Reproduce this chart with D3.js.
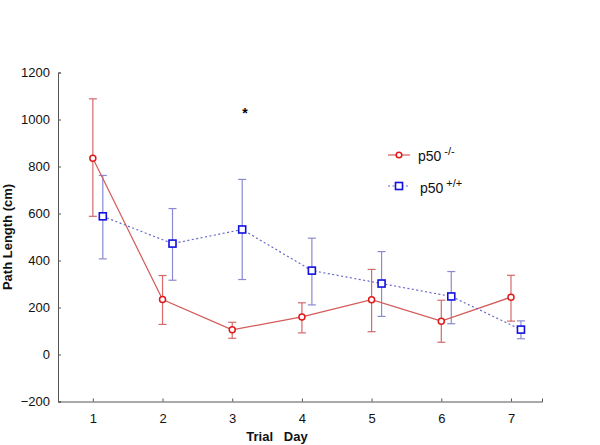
<!DOCTYPE html>
<html><head><meta charset="utf-8">
<script src="https://cdn.jsdelivr.net/npm/d3@7"></script>
<style>body{margin:0;background:#fff}svg{display:block}</style>
</head><body>
<script>
const days = [1,2,3,4,5,6,7];
const koMean = [835, 234, 105, 160, 233, 142, 244];
const koUpper = [1088, 336, 137, 220, 362, 231, 337];
const koLower = [588, 128, 69, 92, 97, 52, 142];
const wtMean = [588, 472, 532, 357, 302, 247, 106];
const wtUpper = [762, 621, 745, 495, 438, 353, 143];
const wtLower = [407, 316, 319, 211, 162, 131, 67];
const yTicks = [-200, 0, 200, 400, 600, 800, 1000, 1200];
const xTicks = [1,2,3,4,5,6,7];

const W = 600, H = 445;
const svg = d3.select("body").append("svg").attr("width", W).attr("height", H);
const font = "Liberation Sans, Arial, sans-serif";

const x = d3.scaleLinear().domain([0.5, 7.445]).range([58, 542]);
const y = d3.scaleLinear().domain([-200, 1200]).range([401.5, 72.5]);
const wOff = 0.143;

// axes
const yAxis = svg.append("g").attr("transform", "translate(58,0)")
  .call(d3.axisLeft(y).tickValues(yTicks).tickFormat(d3.format("d")).tickSize(-3).tickPadding(8));
const xAxis = svg.append("g").attr("transform", "translate(0,401.5)")
  .call(d3.axisBottom(x).tickValues(xTicks).tickFormat(d3.format("d")).tickSize(-3).tickPadding(12));
[yAxis, xAxis].forEach(g => {
  g.select(".domain").attr("stroke", "#555");
  g.selectAll(".tick line").attr("stroke", "#555");
  g.selectAll("text").attr("font-family", font).attr("font-size", 13).attr("fill", "#111");
});

// labels
svg.append("text").attr("transform", "translate(12,237) rotate(-90)")
  .attr("text-anchor", "middle").attr("font-family", font).attr("font-size", 13)
  .attr("font-weight", "bold").attr("fill", "#111").text("Path Length (cm)");
svg.append("text").attr("x", 277).attr("y", 441).attr("text-anchor", "middle")
  .attr("font-family", font).attr("font-size", 13).attr("font-weight", "bold")
  .attr("fill", "#111").attr("xml:space", "preserve").style("white-space", "pre").text("Trial   Day");

// asterisk
svg.append("text").attr("x", 245).attr("y", 118).attr("text-anchor", "middle")
  .attr("font-family", font).attr("font-size", 14).attr("font-weight", "bold").text("*");

function errorBars(mean, up, lo, off, color) {
  const g = svg.append("g").attr("stroke", color).attr("stroke-width", 1.2).attr("fill", "none");
  days.forEach((d, i) => {
    const cx = x(d + off);
    g.append("line").attr("x1", cx).attr("x2", cx).attr("y1", y(up[i])).attr("y2", y(lo[i]));
    g.append("line").attr("x1", cx - 4).attr("x2", cx + 4).attr("y1", y(up[i])).attr("y2", y(up[i]));
    g.append("line").attr("x1", cx - 4).attr("x2", cx + 4).attr("y1", y(lo[i])).attr("y2", y(lo[i]));
  });
}
errorBars(koMean, koUpper, koLower, 0, "#d46a6a");
errorBars(wtMean, wtUpper, wtLower, wOff, "#8a8ad0");

const line = off => d3.line().x((d, i) => x(days[i] + off)).y(d => y(d));
svg.append("path").datum(koMean).attr("d", line(0)).attr("fill", "none")
  .attr("stroke", "#d45a5a").attr("stroke-width", 1.2);
svg.append("path").datum(wtMean).attr("d", line(wOff)).attr("fill", "none")
  .attr("stroke", "#6868c8").attr("stroke-width", 1.2).attr("stroke-dasharray", "2,2.5");

svg.append("g").selectAll("circle").data(koMean).join("circle")
  .attr("cx", (d, i) => x(days[i])).attr("cy", d => y(d)).attr("r", 3)
  .attr("fill", "#fff").attr("stroke", "#e01818").attr("stroke-width", 1.5);
svg.append("g").selectAll("rect").data(wtMean).join("rect")
  .attr("x", (d, i) => x(days[i] + wOff) - 3.5).attr("y", d => y(d) - 3.5)
  .attr("width", 7).attr("height", 7)
  .attr("fill", "#fff").attr("stroke", "#1010e0").attr("stroke-width", 1.6);

// legend
const lg = svg.append("g");
lg.append("line").attr("x1", 388).attr("x2", 410).attr("y1", 155).attr("y2", 155)
  .attr("stroke", "#d45a5a").attr("stroke-width", 1.2);
lg.append("circle").attr("cx", 399).attr("cy", 155).attr("r", 2.8)
  .attr("fill", "#fff").attr("stroke", "#e01818").attr("stroke-width", 1.5);
lg.append("line").attr("x1", 388).attr("x2", 410).attr("y1", 186).attr("y2", 186)
  .attr("stroke", "#6868c8").attr("stroke-width", 1.2).attr("stroke-dasharray", "2,2.5");
lg.append("rect").attr("x", 395.5).attr("y", 182.5).attr("width", 7).attr("height", 7)
  .attr("fill", "#fff").attr("stroke", "#1010e0").attr("stroke-width", 1.6);
const t1 = lg.append("text").attr("x", 418).attr("y", 161).attr("font-family", font).attr("font-size", 14).attr("fill", "#111");
t1.append("tspan").text("p50");
t1.append("tspan").attr("dx", 3).attr("dy", -6).attr("font-size", 11).text("-/-");
const t2 = lg.append("text").attr("x", 420).attr("y", 193).attr("font-family", font).attr("font-size", 14).attr("fill", "#111");
t2.append("tspan").text("p50");
t2.append("tspan").attr("dx", 3).attr("dy", -6).attr("font-size", 11).text("+/+");
</script>
</body></html>
